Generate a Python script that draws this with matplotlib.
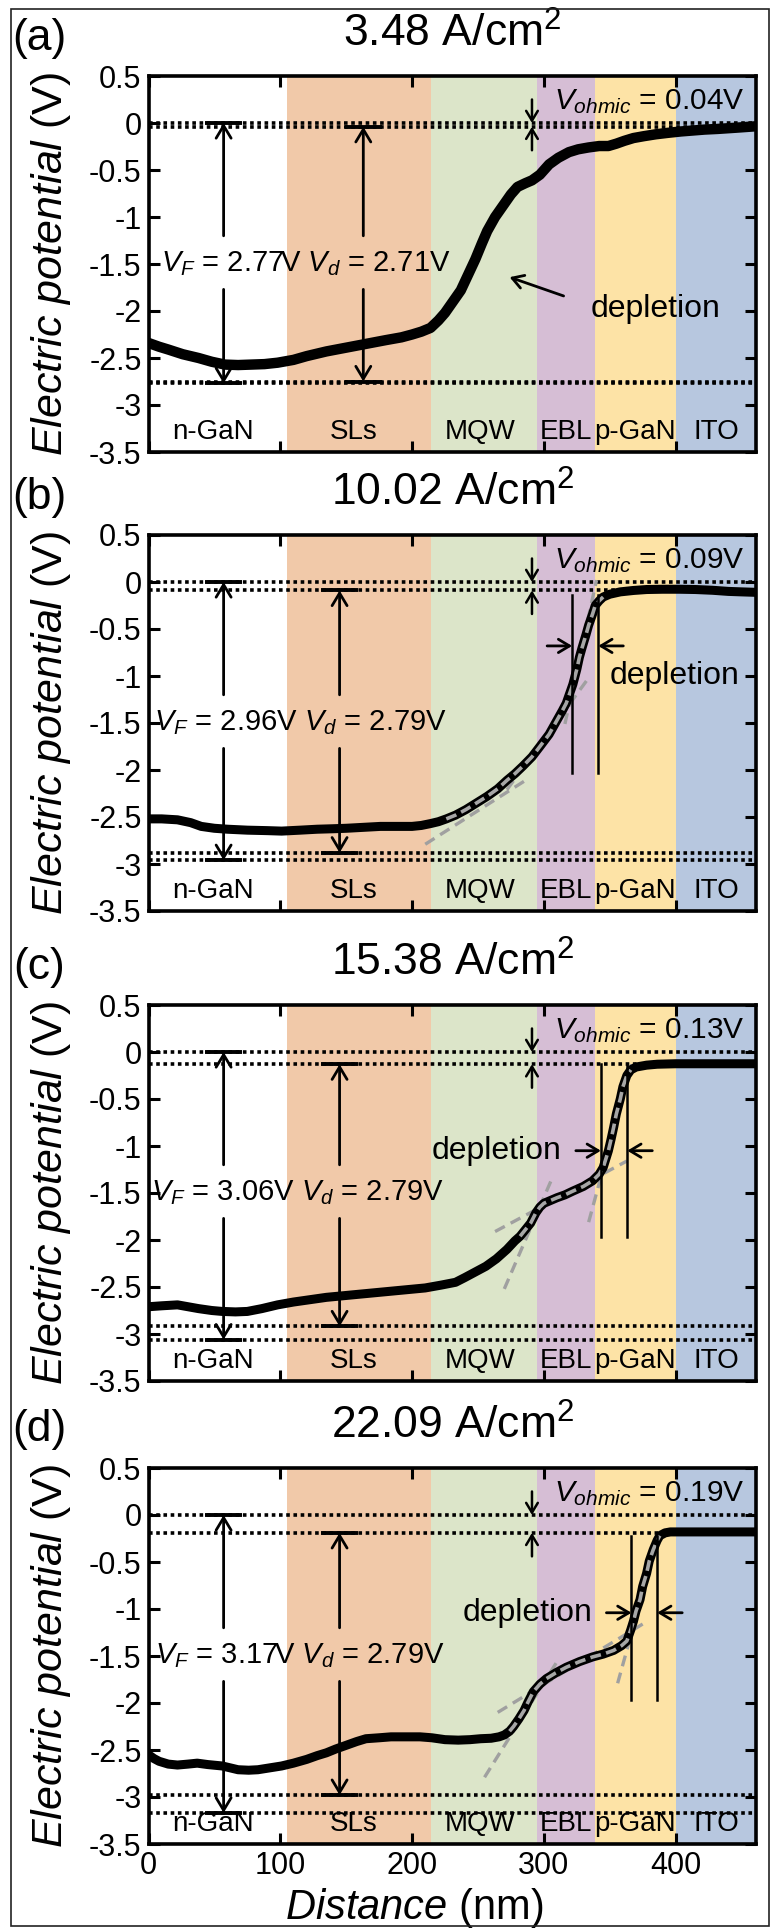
import numpy as np
import matplotlib.pyplot as plt
from matplotlib.patches import Rectangle
from matplotlib import transforms

plt.rcParams['font.family'] = ['Liberation Sans', 'DejaVu Sans']
plt.rcParams['mathtext.fontset'] = 'custom'
plt.rcParams['mathtext.rm'] = 'Liberation Sans'
plt.rcParams['mathtext.it'] = 'Liberation Sans:italic'
plt.rcParams['mathtext.bf'] = 'Liberation Sans:bold'
plt.rcParams['axes.unicode_minus'] = False

# layers of the LED stack (nm)
layer_names = ['n-GaN', 'SLs', 'MQW', 'EBL', 'p-GaN', 'ITO']
layer_edges = [0, 105, 214, 295, 339, 400, 461]
layer_colors = ['#ffffff', '#f1c9a9', '#dce5c9', '#d6bed5', '#fde3a6', '#b7c7df']
layer_label_x = [49, 156, 252, 317, 369, 431]

panel_tags = ['(a)', '(b)', '(c)', '(d)']
current_density = ['3.48', '10.02', '15.38', '22.09']
v_f = [2.77, 2.96, 3.06, 3.17]
v_dep = [2.71, 2.79, 2.79, 2.79]
v_ohmic = [0.04, 0.09, 0.13, 0.19]

# potential profiles
x_a = [0, 8, 15, 26, 38, 48, 58, 68, 78, 88, 98, 110, 120, 135, 150, 165, 180, 192,
       200, 207, 214, 220, 225, 231, 237, 242, 248, 253, 257, 263, 270, 275, 280, 286,
       291, 297, 304, 311, 319, 326, 334, 342, 349, 355, 361, 368, 376, 385, 394, 404,
       413, 422, 432, 446, 461]
pot_a = [-2.34, -2.38, -2.41, -2.46, -2.50, -2.54, -2.57, -2.575, -2.57, -2.565, -2.55,
         -2.52, -2.48, -2.43, -2.39, -2.35, -2.31, -2.28, -2.25, -2.22, -2.18, -2.10,
         -2.02, -1.90, -1.78, -1.63, -1.45, -1.28, -1.15, -1.00, -0.86, -0.76, -0.68,
         -0.64, -0.61, -0.55, -0.44, -0.37, -0.31, -0.28, -0.26, -0.245, -0.245, -0.22,
         -0.19, -0.16, -0.14, -0.12, -0.105, -0.09, -0.08, -0.07, -0.063, -0.05, -0.035]

x_b = [0, 10, 22, 32, 40, 50, 60, 75, 90, 101, 115, 128, 140, 150, 163, 176, 190, 200,
       207, 214, 220, 226, 233, 241, 249, 257, 265, 272, 278, 284, 291, 297, 304, 310,
       314, 317, 320, 322, 325, 327, 329, 332, 334, 337, 339, 342, 345, 350, 358, 368,
       378, 390, 403, 415, 428, 440, 450, 461]
pot_b = [-2.52, -2.52, -2.53, -2.56, -2.60, -2.62, -2.63, -2.64, -2.645, -2.65, -2.64,
         -2.63, -2.625, -2.62, -2.61, -2.60, -2.60, -2.60, -2.59, -2.57, -2.55, -2.52,
         -2.48, -2.42, -2.35, -2.28, -2.20, -2.11, -2.04, -1.96, -1.86, -1.75, -1.62,
         -1.47, -1.37, -1.29, -1.17, -1.09, -0.93, -0.80, -0.70, -0.56, -0.46, -0.34,
         -0.25, -0.20, -0.16, -0.13, -0.105, -0.09, -0.08, -0.077, -0.077, -0.08,
         -0.088, -0.10, -0.105, -0.11]

x_c = [0, 10, 22, 30, 38, 48, 56, 66, 75, 86, 98, 110, 120, 135, 150, 165, 180, 195,
       210, 222, 233, 240, 248, 256, 264, 272, 278, 282, 286, 290, 294, 297, 300, 305,
       310, 316, 322, 330, 337, 342, 345, 347, 349, 351, 353, 355, 358, 360, 363, 366,
       370, 378, 386, 400, 415, 430, 445, 461]
pot_c = [-2.71, -2.70, -2.69, -2.71, -2.73, -2.75, -2.76, -2.765, -2.76, -2.73, -2.69,
         -2.66, -2.64, -2.61, -2.59, -2.57, -2.55, -2.53, -2.51, -2.48, -2.45, -2.40,
         -2.34, -2.28, -2.20, -2.10, -2.01, -1.96, -1.89, -1.82, -1.71, -1.65, -1.61,
         -1.58, -1.55, -1.52, -1.48, -1.43, -1.37, -1.30, -1.23, -1.14, -1.05, -0.93,
         -0.80, -0.66, -0.50, -0.37, -0.25, -0.19, -0.16, -0.14, -0.13, -0.125, -0.125,
         -0.125, -0.125, -0.125]

x_d = [0, 4, 8, 15, 22, 30, 37, 45, 56, 62, 68, 76, 83, 92, 101, 110, 120, 128, 135,
       142, 150, 158, 165, 175, 184, 195, 206, 215, 225, 235, 244, 252, 260, 266, 270,
       274, 277, 281, 285, 288, 292, 297, 302, 309, 317, 327, 337, 345, 353, 359, 363,
       366, 368, 370, 373, 375, 378, 380, 383, 386, 388, 392, 396, 405, 420, 440, 461]
pot_d = [-2.55, -2.59, -2.62, -2.65, -2.66, -2.65, -2.64, -2.655, -2.67, -2.69, -2.71,
         -2.715, -2.71, -2.69, -2.67, -2.64, -2.60, -2.56, -2.53, -2.49, -2.45, -2.41,
         -2.38, -2.37, -2.36, -2.36, -2.36, -2.37, -2.39, -2.395, -2.39, -2.38, -2.375,
         -2.36, -2.34, -2.30, -2.25, -2.17, -2.08, -1.99, -1.88, -1.80, -1.74, -1.68,
         -1.62, -1.56, -1.51, -1.48, -1.44, -1.39, -1.34, -1.22, -1.13, -1.02, -0.90,
         -0.76, -0.62, -0.49, -0.37, -0.27, -0.22, -0.19, -0.18, -0.18, -0.18, -0.18,
         -0.18]

profiles_x = [x_a, x_b, x_c, x_d]
profiles_v = [pot_a, pot_b, pot_c, pot_d]

# gray dashed tangent lines (x0, v0, x1, v1)
tangents = [
    [],
    [(210, -2.79, 285, -2.12), (272, -2.21, 334, -1.02), (316, -1.51, 340, 0.02)],
    [(270, -2.52, 307, -1.32), (263, -1.91, 363, -1.16), (334, -1.81, 366.5, -0.13)],
    [(255, -2.79, 310, -1.56), (265, -2.10, 375, -1.16), (356, -1.79, 388, -0.18)],
]

W, H = 776, 1928
fig = plt.figure(figsize=(W / 100, H / 100), dpi=100)
ax_left, ax_w, ax_h = 148.5, 607.5, 376
ax_tops = [76, 535, 1005, 1468]

vf_x = [57, 57, 57, 57]
vd_x = [163, 145, 145, 145]
vtext_x = [119, 115, 113, 115]


def arrow(ax, tail, head, scale=18, lw=2.0):
    ax.annotate('', xy=head, xytext=tail,
                arrowprops=dict(arrowstyle='->,head_length=0.5,head_width=0.3',
                                lw=lw, color='k', mutation_scale=scale,
                                shrinkA=0, shrinkB=0), zorder=7)


for i in range(4):
    top = ax_tops[i]
    ax = fig.add_axes([ax_left / W, 1 - (top + ax_h) / H, ax_w / W, ax_h / H])

    for k in range(len(layer_names)):
        ax.axvspan(layer_edges[k], layer_edges[k + 1], color=layer_colors[k], lw=0, zorder=0)
        ax.text(layer_label_x[k], -3.29, layer_names[k], ha='center', va='center',
                fontsize=20, zorder=3)

    levels = [0, -v_ohmic[i], -(v_ohmic[i] + v_dep[i]), -v_f[i]]
    for lv in levels:
        ax.axhline(lv, color='k', lw=2.6, ls=(0, (1, 1)), zorder=2)

    # measured curve
    xs = np.array(profiles_x[i])
    vs = np.array(profiles_v[i])
    ax.plot(xs, vs, color='k', lw=7.5 if i == 0 else 6.5, solid_joinstyle='round', zorder=5)

    for (x0, y0, x1, y1) in tangents[i]:
        ax.plot([x0, x1], [y0, y1], color='#a0a0a0', lw=2.4, ls=(0, (3.3, 2)), zorder=4)

    # V_F and V_d arrows
    for xc, vtop, vbot in [(vf_x[i], 0, -v_f[i]),
                           (vd_x[i], -v_ohmic[i], -(v_ohmic[i] + v_dep[i]))]:
        for lv in (vtop, vbot):
            ax.plot([xc - 14, xc + 14], [lv, lv], color='k', lw=2.8,
                    solid_capstyle='butt', zorder=6)
        arrow(ax, (xc, -1.2), (xc, vtop))
        arrow(ax, (xc, -1.77), (xc, vbot))
    ax.text(vtext_x[i], -1.5,
            r'$V_F$ = %.2fV $V_d$ = %.2fV' % (v_f[i], v_dep[i]),
            ha='center', va='center', fontsize=21, zorder=8)

    # V_ohmic
    arrow(ax, (291, 0.25), (291, 0), scale=14, lw=1.8)
    arrow(ax, (291, -v_ohmic[i] - 0.25), (291, -v_ohmic[i]), scale=14, lw=1.8)
    ax.text(308, 0.23, r'$V_{ohmic}$ = %.2fV' % v_ohmic[i], ha='left', va='center',
            fontsize=21.5, zorder=8)

    # depletion markers
    if i == 0:
        ax.text(385, -1.98, 'depletion', ha='center', va='center', fontsize=23, zorder=8)
        arrow(ax, (315, -1.84), (274, -1.64), scale=16)
    else:
        seg = (xs >= [0, 226, 282, 272][i]) & (xs <= [0, 345, 366, 388][i])
        ax.plot(xs[seg], vs[seg], color='#a6a6a6', lw=2.6, ls=(0, (3, 1.5)), zorder=6)
        xl, xr = [(0, 0), (321.5, 341.3), (343.3, 363.3), (366.5, 386)][i]
        vt, vb = [(0, 0), (-0.14, -2.03), (-0.13, -1.97), (-0.22, -1.97)][i]
        va_ = [0, -0.68, -1.05, -1.04][i]
        for xv in (xl, xr):
            ax.plot([xv, xv], [vt, vb], color='k', lw=1.8, zorder=6)
        arrow(ax, (xl - 19, va_), (xl, va_), scale=16)
        arrow(ax, (xr + 19, va_), (xr, va_), scale=16)
        tx, ty = [(0, 0), (399, -1.0), (264, -1.05), (288, -1.04)][i]
        ax.text(tx, ty, 'depletion', ha='center', va='center', fontsize=23, zorder=8)

    ax.set_xlim(layer_edges[0], layer_edges[-1])
    ax.set_ylim(-3.5, 0.5)
    ax.set_xticks([0, 100, 200, 300, 400])
    yt = np.arange(-3.5, 0.51, 0.5)
    ax.set_yticks(yt)
    ax.set_yticklabels(['%g' % t for t in yt])
    ax.tick_params(direction='in', top=True, right=True, length=8, width=2.2,
                   labelsize=22, pad=5, labelbottom=(i == 3))
    for sp in ax.spines.values():
        sp.set_linewidth(2.6)
        sp.set_zorder(9)

    ax.set_ylabel(r'$\mathit{Electric\ potential}$ (V)', fontsize=31)
    ax.yaxis.set_label_coords(-0.125, 0.5)

    ax.text(0.5, 1 + 42 / ax_h, current_density[i] + r' A/cm$^2$', transform=ax.transAxes,
            ha='center', va='center', fontsize=32)
    ax.text(-0.18, 1 + 38 / ax_h, panel_tags[i], transform=ax.transAxes,
            ha='center', va='center', fontsize=32)

    if i == 3:
        tr = transforms.blended_transform_factory(ax.transData, ax.transAxes)
        ax.text(202, -64 / ax_h, r'$\mathit{Distance}$ (nm)', transform=tr,
                ha='center', va='center', fontsize=30)

fig.add_artist(Rectangle((11 / W, 1 - 1926 / H), 758 / W, 1917 / H,
                         transform=fig.transFigure, fill=False, lw=1.2, ec='#222222'))

fig.savefig('out.png', dpi=100)
